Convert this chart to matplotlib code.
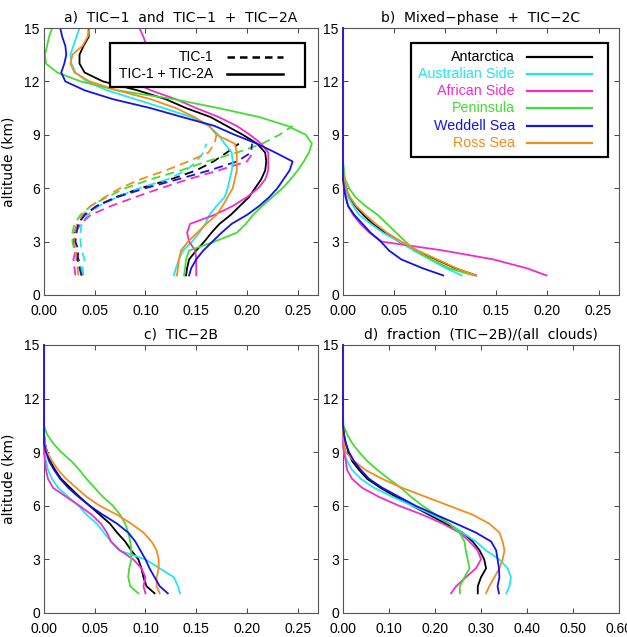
import numpy as np
import matplotlib
matplotlib.use("Agg")
import matplotlib.pyplot as plt
from matplotlib.patches import Rectangle
from matplotlib.lines import Line2D

nan = np.nan

# ---------------- data ----------------
regions = ["Antarctica", "Australian Side", "African Side", "Peninsula", "Weddell Sea", "Ross Sea"]
colors = ["#000000", "#22e6f2", "#f02ccc", "#44dd33", "#1414e6", "#f58c1e"]

alt = [1.1, 1.5, 2, 2.5, 3, 3.5, 4, 4.5, 5, 5.5, 6, 6.5, 7, 7.5, 8, 8.5, 9, 9.5,
       10, 10.5, 11, 11.5, 12, 12.5, 13, 13.5, 14, 14.5, 15]
alt_dash = alt[:18]

# panel a, TIC-1 (dashed)
a_dash_antarctica = [0.037, 0.036, 0.034, 0.031, 0.029, 0.030, 0.033, 0.040, 0.052, 0.071, 0.095, 0.125, 0.150, 0.167, 0.180, 0.192, nan, nan]
a_dash_australian = [0.039, 0.038, 0.040, 0.037, 0.036, 0.036, 0.037, 0.043, 0.054, 0.072, 0.094, 0.122, 0.140, 0.150, 0.157, 0.160, nan, nan]
a_dash_african    = [0.031, 0.030, 0.029, 0.031, 0.030, 0.031, 0.036, 0.046, 0.066, 0.090, 0.115, 0.142, 0.172, 0.200, 0.206, nan, nan, nan]
a_dash_peninsula  = [0.038, 0.036, 0.033, 0.030, 0.028, 0.028, 0.030, 0.036, 0.046, 0.062, 0.080, 0.105, 0.135, 0.160, 0.190, 0.215, 0.232, 0.245]
a_dash_weddell    = [0.037, 0.035, 0.033, 0.034, 0.031, 0.032, 0.034, 0.040, 0.052, 0.072, 0.100, 0.132, 0.163, 0.190, 0.204, 0.205, nan, nan]
a_dash_ross       = [0.034, 0.033, 0.032, 0.031, 0.030, 0.030, 0.033, 0.038, 0.046, 0.060, 0.075, 0.095, 0.120, 0.142, 0.162, 0.168, 0.170, nan]

# panel a, TIC-1 + TIC-2A (solid)
a_antarctica = [0.140, 0.141, 0.143, 0.150, 0.158, 0.165, 0.173, 0.184, 0.193, 0.202, 0.208, 0.214, 0.218, 0.219, 0.218, 0.210, 0.196, 0.180, 0.164, 0.140, 0.120, 0.092, 0.058, 0.040, 0.035, 0.035, 0.039, 0.044, 0.044]
a_australian = [0.128, 0.130, 0.133, 0.137, 0.146, 0.153, 0.159, 0.163, 0.170, 0.178, 0.181, 0.183, 0.185, 0.186, 0.185, 0.178, 0.172, 0.162, 0.145, 0.118, 0.090, 0.062, 0.042, 0.031, 0.027, 0.026, 0.029, 0.032, 0.035]
a_african    = [0.150, 0.150, 0.150, 0.149, 0.143, 0.141, 0.144, 0.168, 0.186, 0.200, 0.211, 0.218, 0.221, 0.221, 0.221, 0.214, 0.203, 0.190, 0.172, 0.150, 0.130, 0.105, 0.088, 0.090, 0.097, 0.101, 0.101, 0.098, 0.094]
a_peninsula  = [0.138, 0.139, 0.140, 0.143, 0.168, 0.190, 0.199, 0.206, 0.215, 0.225, 0.235, 0.243, 0.250, 0.256, 0.261, 0.264, 0.258, 0.240, 0.212, 0.172, 0.128, 0.072, 0.036, 0.013, 0.002, 0.001, 0.003, 0.005, 0.008]
a_weddell    = [0.143, 0.145, 0.150, 0.157, 0.166, 0.175, 0.185, 0.200, 0.212, 0.222, 0.230, 0.236, 0.242, 0.245, 0.228, 0.210, 0.188, 0.168, 0.136, 0.105, 0.068, 0.040, 0.021, 0.017, 0.020, 0.022, 0.021, 0.018, 0.016]
a_ross       = [0.131, 0.132, 0.133, 0.135, 0.142, 0.151, 0.160, 0.170, 0.176, 0.181, 0.186, 0.188, 0.190, 0.190, 0.190, 0.188, 0.170, 0.163, 0.148, 0.130, 0.105, 0.072, 0.045, 0.030, 0.026, 0.028, 0.038, 0.043, 0.045]

Z11 = [0.0] * 11
# panel b, Mixed-phase + TIC-2C
b_antarctica = [0.130, 0.110, 0.091, 0.072, 0.055, 0.041, 0.029, 0.020, 0.012, 0.006, 0.003, 0.001, 0, 0, 0, 0, 0, 0] + Z11
b_australian = [0.116, 0.101, 0.085, 0.069, 0.055, 0.039, 0.027, 0.016, 0.010, 0.005, 0.002, 0, 0, 0, 0, 0, 0, 0] + Z11
b_african    = [0.199, 0.180, 0.147, 0.098, 0.038, 0.026, 0.017, 0.010, 0.005, 0.003, 0.0015, 0, 0, 0, 0, 0, 0, 0] + Z11
b_peninsula  = [0.128, 0.104, 0.086, 0.071, 0.061, 0.052, 0.043, 0.034, 0.022, 0.012, 0.006, 0.002, 0.001, 0, 0, 0, 0, 0] + Z11
b_weddell    = [0.098, 0.078, 0.057, 0.045, 0.037, 0.027, 0.019, 0.011, 0.005, 0.0025, 0.001, 0, 0, 0, 0, 0, 0, 0] + Z11
b_ross       = [0.130, 0.111, 0.092, 0.073, 0.057, 0.043, 0.032, 0.022, 0.013, 0.007, 0.003, 0.001, 0, 0, 0, 0, 0, 0] + Z11

# panel c, TIC-2B
c_antarctica = [0.109, 0.101, 0.098, 0.096, 0.093, 0.086, 0.080, 0.072, 0.065, 0.055, 0.045, 0.035, 0.026, 0.017, 0.011, 0.006, 0.003, 0.001] + Z11
c_australian = [0.134, 0.132, 0.128, 0.114, 0.100, 0.074, 0.066, 0.059, 0.052, 0.042, 0.034, 0.024, 0.014, 0.008, 0.004, 0.002, 0, 0] + Z11
c_african    = [0.100, 0.098, 0.100, 0.096, 0.088, 0.075, 0.066, 0.062, 0.056, 0.047, 0.035, 0.022, 0.009, 0.004, 0.002, 0.001, 0, 0] + Z11
c_peninsula  = [0.093, 0.085, 0.083, 0.084, 0.086, 0.086, 0.085, 0.083, 0.080, 0.075, 0.068, 0.058, 0.050, 0.042, 0.035, 0.027, 0.017, 0.009, 0.003] + [0.0] * 10
c_weddell    = [0.122, 0.114, 0.109, 0.104, 0.100, 0.095, 0.090, 0.083, 0.072, 0.058, 0.045, 0.034, 0.024, 0.016, 0.010, 0.005, 0.002, 0] + Z11
c_ross       = [0.114, 0.111, 0.111, 0.113, 0.113, 0.111, 0.106, 0.098, 0.086, 0.072, 0.055, 0.042, 0.032, 0.022, 0.014, 0.008, 0.003, 0.001] + Z11

# panel d, fraction (TIC-2B)/(all clouds)
d_antarctica = [0.293, 0.293, 0.300, 0.311, 0.307, 0.297, 0.282, 0.260, 0.224, 0.187, 0.151, 0.115, 0.082, 0.053, 0.035, 0.020, 0.012, 0.006, 0.002] + [0.0] * 10
d_australian = [0.355, 0.362, 0.365, 0.358, 0.340, 0.311, 0.289, 0.260, 0.231, 0.195, 0.151, 0.108, 0.068, 0.039, 0.020, 0.009, 0.002, 0] + Z11
d_african    = [0.235, 0.246, 0.267, 0.289, 0.300, 0.293, 0.275, 0.253, 0.217, 0.173, 0.122, 0.078, 0.042, 0.020, 0.009, 0.006, 0.002, 0] + Z11
d_peninsula  = [0.254, 0.254, 0.264, 0.275, 0.271, 0.267, 0.264, 0.253, 0.231, 0.202, 0.173, 0.148, 0.126, 0.100, 0.075, 0.053, 0.035, 0.020, 0.009, 0.001] + [0.0] * 9
d_weddell    = [0.339, 0.336, 0.340, 0.339, 0.336, 0.333, 0.322, 0.289, 0.246, 0.202, 0.158, 0.122, 0.086, 0.057, 0.039, 0.024, 0.013, 0.006, 0.002] + [0.0] * 10
d_ross       = [0.311, 0.318, 0.329, 0.340, 0.347, 0.351, 0.347, 0.340, 0.318, 0.282, 0.231, 0.180, 0.129, 0.086, 0.049, 0.024, 0.006, 0.002] + Z11

a_dash = [a_dash_antarctica, a_dash_australian, a_dash_african, a_dash_peninsula, a_dash_weddell, a_dash_ross]
a_solid = [a_antarctica, a_australian, a_african, a_peninsula, a_weddell, a_ross]
b_vals = [b_antarctica, b_australian, b_african, b_peninsula, b_weddell, b_ross]
c_vals = [c_antarctica, c_australian, c_african, c_peninsula, c_weddell, c_ross]
d_vals = [d_antarctica, d_australian, d_african, d_peninsula, d_weddell, d_ross]

titles = ["a)  TIC\u22121  and  TIC\u22121  +  TIC\u22122A",
          "b)  Mixed\u2212phase  +  TIC\u22122C",
          "c)  TIC\u22122B",
          "d)  fraction  (TIC\u22122B)/(all  clouds)"]
xticks_abc = [0.00, 0.05, 0.10, 0.15, 0.20, 0.25]
xticks_d = [0.00, 0.10, 0.20, 0.30, 0.40, 0.50, 0.60]
yticks = [0, 3, 6, 9, 12, 15]

# draw order (blue on top)
order = [0, 1, 2, 3, 5, 4]

# ---------------- figure ----------------
W, H = 627, 637
fig = plt.figure(figsize=(W / 100, H / 100), dpi=100)

TICKFONT = "Liberation Sans"
TITLEFONT = "DejaVu Sans"
LW = 1.3

def make_ax(l, r, t, b):
    return fig.add_axes([l / W, 1 - b / H, (r - l) / W, (b - t) / H])

axa = make_ax(44, 318, 28, 295)
axb = make_ax(343, 619, 28, 295)
axc = make_ax(44, 318, 345, 613)
axd = make_ax(343, 619, 345, 613)

for ax, xt, xmax, fmt in [(axa, xticks_abc, 0.27, "%.2f"), (axb, xticks_abc, 0.27, "%.2f"),
                          (axc, xticks_abc, 0.27, "%.2f"), (axd, xticks_d, 0.60, "%.2f")]:
    ax.set_xlim(0, xmax)
    ax.set_ylim(0, 15)
    ax.set_xticks(xt)
    ax.set_xticklabels([fmt % v for v in xt], fontfamily=TICKFONT, fontsize=10)
    ax.set_yticks(yticks)
    ax.set_yticklabels([str(v) for v in yticks], fontfamily=TICKFONT, fontsize=10)
    ax.tick_params(direction="in", length=3.5, width=0.7, top=True, right=True,
                   colors="#444444", labelcolor="black")
    ax.tick_params(axis="x", pad=6.5)
    ax.tick_params(axis="y", pad=3)
    for s in ax.spines.values():
        s.set_color("#555555")
        s.set_linewidth(0.8)

for ax, t in zip([axa, axb, axc, axd], titles):
    ax.set_title(t, fontfamily=TITLEFONT, fontsize=10, pad=4.5)

# panel a
for i in order:
    axa.plot(a_dash[i], alt_dash, color=colors[i], lw=LW, linestyle=(0, (5, 3)))
for i in order:
    axa.plot(a_solid[i], alt, color=colors[i], lw=LW)

# panels b, c, d
for ax, vals in [(axb, b_vals), (axc, c_vals), (axd, d_vals)]:
    for i in order:
        ax.plot(vals[i], alt, color=colors[i], lw=LW, clip_on=False, zorder=3)

# legend panel a
axa.add_patch(Rectangle((0.241, 0.779), 0.712, 0.165, transform=axa.transAxes,
                        facecolor="white", edgecolor="black", lw=1.6, zorder=10))
for y, lab, ls in [(0.891, "TIC-1", (0, (3, 2))), (0.828, "TIC-1 + TIC-2A", "-")]:
    axa.text(0.617, y, lab, transform=axa.transAxes, ha="right", va="center",
             fontfamily=TICKFONT, fontsize=10, zorder=11)
    axa.add_line(Line2D([0.668, 0.872], [y, y], transform=axa.transAxes,
                        color="black", lw=1.8, linestyle=ls, zorder=11))

# legend panel b
axb.add_patch(Rectangle((0.246, 0.517), 0.714, 0.427, transform=axb.transAxes,
                        facecolor="white", edgecolor="black", lw=1.6, zorder=10))
leg_y = [0.893, 0.828, 0.764, 0.699, 0.634, 0.568]
for i, y in enumerate(leg_y):
    axb.text(0.623, y, regions[i], transform=axb.transAxes, ha="right", va="center",
             fontfamily=TICKFONT, fontsize=10.3, color=colors[i], zorder=11)
    axb.add_line(Line2D([0.667, 0.902], [y, y], transform=axb.transAxes,
                        color=colors[i], lw=1.6, zorder=11))

# y labels
fig.text(9 / W, 1 - 161.5 / H, "altitude (km)", rotation=90, ha="center", va="center",
         fontfamily=TITLEFONT, fontsize=10)
fig.text(9 / W, 1 - 479 / H, "altitude (km)", rotation=90, ha="center", va="center",
         fontfamily=TITLEFONT, fontsize=10)

fig.savefig("out.png", dpi=100)
